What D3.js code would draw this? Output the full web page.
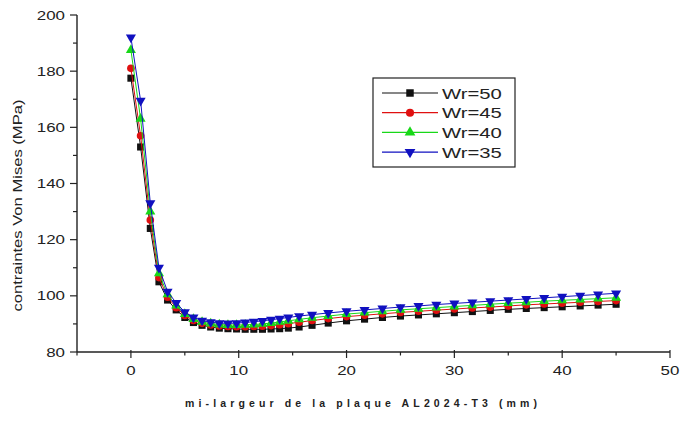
<!DOCTYPE html>
<html>
<head>
<meta charset="utf-8">
<script src="https://cdn.jsdelivr.net/npm/d3@7"></script>
<style>
  html, body { margin: 0; padding: 0; background: #fff; }
  svg { display: block; }
  text { font-family: "Liberation Sans", Arial, sans-serif; fill: #222; }
</style>
</head>
<body>
<svg id="chart" width="681" height="423"></svg>
<script>
// Half-width position along the plate (mm)
const positions = [0, 0.9, 1.8, 2.6, 3.4, 4.2, 5.0, 5.8, 6.6, 7.4, 8.2, 9.0, 9.8, 10.6, 11.4, 12.2, 13.0, 13.8, 14.6, 15.6, 16.8, 18.3, 20.0, 21.67, 23.33, 25, 26.67, 28.33, 30, 31.67, 33.33, 35, 36.67, 38.33, 40, 41.67, 43.33, 45];

// Von Mises stress (MPa) for each Wr value
const wr50 = [177.5, 153, 124, 105, 98.5, 95, 92.3, 90.5, 89.5, 88.9, 88.5, 88.3, 88.2, 88.1, 88.1, 88.1, 88.2, 88.3, 88.5, 88.9, 89.5, 90.3, 91.1, 91.7, 92.3, 92.8, 93.2, 93.6, 94.0, 94.4, 94.8, 95.2, 95.5, 95.8, 96.1, 96.4, 96.7, 97.0];
const wr45 = [181, 157, 127, 106.5, 99.5, 95.8, 93, 91.2, 90.2, 89.6, 89.3, 89.1, 89.0, 89.0, 89.1, 89.2, 89.4, 89.7, 90.1, 90.6, 91.2, 91.9, 92.6, 93.1, 93.6, 94.1, 94.5, 94.9, 95.3, 95.7, 96.0, 96.4, 96.8, 97.1, 97.4, 97.7, 98.0, 98.3];
const wr40 = [187.5, 163, 130, 108, 100.5, 96.5, 93.5, 91.7, 90.7, 90.1, 89.8, 89.6, 89.6, 89.7, 89.8, 90.0, 90.3, 90.7, 91.1, 91.6, 92.2, 92.8, 93.5, 94.0, 94.5, 95.0, 95.4, 95.8, 96.2, 96.6, 97.0, 97.4, 97.7, 98.1, 98.4, 98.7, 99.0, 99.3];
const wr35 = [192, 169.5, 133, 110, 101.5, 97.5, 94.2, 92.3, 91.2, 90.6, 90.3, 90.2, 90.3, 90.5, 90.8, 91.1, 91.5, 91.9, 92.3, 92.8, 93.3, 93.9, 94.5, 95.0, 95.5, 96.0, 96.4, 96.9, 97.3, 97.7, 98.1, 98.5, 98.9, 99.3, 99.7, 100.1, 100.5, 100.9];

const seriesLabels = ["Wr=50", "Wr=45", "Wr=40", "Wr=35"];
const xTicks = [0, 10, 20, 30, 40, 50];
const yTicks = [80, 100, 120, 140, 160, 180, 200];
const xTitle = "mi-largeur de la plaque AL2024-T3 (mm)";
const yTitle = "contraintes Von Mises (MPa)";

const series = [
  { name: seriesLabels[0], values: wr50, color: "#111111", symbol: d3.symbolSquare, size: 50, rot: 0 },
  { name: seriesLabels[1], values: wr45, color: "#e01010", symbol: d3.symbolCircle, size: 46, rot: 0 },
  { name: seriesLabels[2], values: wr40, color: "#18d818", symbol: d3.symbolTriangle, size: 44, rot: 0 },
  { name: seriesLabels[3], values: wr35, color: "#1010c0", symbol: d3.symbolTriangle, size: 44, rot: 180 }
];

const svg = d3.select("#chart");
const x = d3.scaleLinear().domain([-5, 50]).range([77, 670]);
const y = d3.scaleLinear().domain([80, 200]).range([352, 15]);

const SX = 1.3; // horizontal stretch for labels

// Axes
const xAxis = svg.append("g").attr("transform", `translate(0,${y(80)})`);
xAxis.append("line").attr("x1", x(-5)).attr("x2", x(50)).attr("stroke", "#222").attr("stroke-width", 1.4);
xAxis.selectAll(".mj").data(xTicks).join("line")
  .attr("x1", d => x(d)).attr("x2", d => x(d)).attr("y1", -2).attr("y2", 6)
  .attr("stroke", "#222").attr("stroke-width", 1.2);
xAxis.selectAll(".mn").data(d3.range(-5, 50, 10)).join("line")
  .attr("x1", d => x(d)).attr("x2", d => x(d)).attr("y1", 0).attr("y2", 3.5)
  .attr("stroke", "#222").attr("stroke-width", 1.2);
xAxis.selectAll("g.lbl").data(xTicks).join("g")
  .attr("transform", d => `translate(${x(d)},23) scale(${SX},1)`)
  .append("text").attr("text-anchor", "middle").attr("font-size", 13).text(d => d);

const yAxis = svg.append("g").attr("transform", `translate(${x(-5)},0)`);
yAxis.append("line").attr("y1", y(80)).attr("y2", y(200)).attr("stroke", "#222").attr("stroke-width", 1.4);
yAxis.selectAll(".mj").data(yTicks).join("line")
  .attr("y1", d => y(d)).attr("y2", d => y(d)).attr("x1", -7).attr("x2", 0)
  .attr("stroke", "#222").attr("stroke-width", 1.2);
yAxis.selectAll(".mn").data(d3.range(90, 200, 20)).join("line")
  .attr("y1", d => y(d)).attr("y2", d => y(d)).attr("x1", -4).attr("x2", 0)
  .attr("stroke", "#222").attr("stroke-width", 1.2);
yAxis.selectAll("g.lbl").data(yTicks).join("g")
  .attr("transform", d => `translate(-12,${y(d) + 4.5}) scale(${SX},1)`)
  .append("text").attr("text-anchor", "end").attr("font-size", 13).text(d => d);

// Axis titles
svg.append("text")
  .attr("x", 361).attr("y", 407)
  .attr("text-anchor", "middle").attr("font-size", 10.5).attr("font-weight", "bold")
  .attr("fill", "#3a3a3a")
  .attr("textLength", 352).attr("lengthAdjust", "spacing")
  .text(xTitle);

svg.append("text")
  .attr("transform", `translate(22,${y(140) + 22}) rotate(-90)`)
  .attr("text-anchor", "middle").attr("font-size", 13).attr("fill", "#3a3a3a")
  .attr("textLength", 212).attr("lengthAdjust", "spacingAndGlyphs")
  .text(yTitle);

// Curves and markers
const line = d3.line().x(d => x(d[0])).y(d => y(d[1]));
series.forEach(s => {
  const pts = positions.map((p, i) => [p, s.values[i]]);
  const g = svg.append("g");
  g.append("path").datum(pts).attr("d", line)
    .attr("fill", "none").attr("stroke", s.color).attr("stroke-width", 1);
  g.selectAll("path.m").data(pts).join("path").attr("class", "m")
    .attr("d", d3.symbol().type(s.symbol).size(s.size))
    .attr("transform", d => `translate(${x(d[0])},${y(d[1])}) rotate(${s.rot})`)
    .attr("fill", s.color);
});

// Legend
const lg = svg.append("g").attr("transform", "translate(373,78)");
lg.append("rect").attr("width", 142).attr("height", 89)
  .attr("fill", "#fff").attr("stroke", "#222").attr("stroke-width", 1.2);
series.forEach((s, i) => {
  const cy = 15 + i * 19.7;
  lg.append("line").attr("x1", 9).attr("x2", 65).attr("y1", cy).attr("y2", cy)
    .attr("stroke", s.color).attr("stroke-width", 1.2);
  lg.append("path").attr("d", d3.symbol().type(s.symbol).size(s.size + 6))
    .attr("transform", `translate(37,${cy}) rotate(${s.rot})`).attr("fill", s.color);
  lg.append("g").attr("transform", `translate(69,${cy + 5.5}) scale(1.35,1)`)
    .append("text").attr("font-size", 15).text(s.name);
});
</script>
</body>
</html>
